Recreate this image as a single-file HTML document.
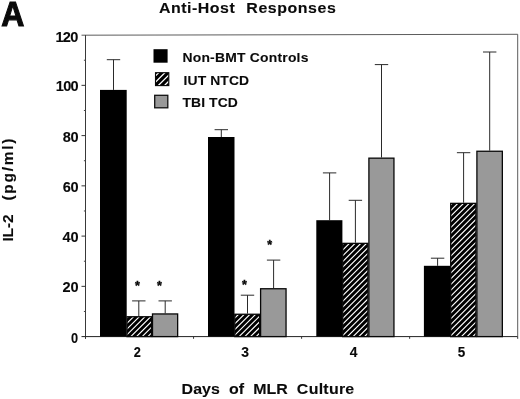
<!DOCTYPE html>
<html lang="en"><head><meta charset="utf-8"><title>Anti-Host Responses</title>
<style>html,body{margin:0;padding:0;background:#fff}body{width:520px;height:399px;overflow:hidden}svg{display:block}text{font-family:"Liberation Sans", Arial, Helvetica, sans-serif;font-weight:bold;fill:#0a0a0a;stroke:#0a0a0a;stroke-width:0.1px}</style></head><body>
<svg width="520" height="399" viewBox="0 0 520 399">
<rect width="520" height="399" fill="#fff"/>
<path d="M81.5 35.2L517.7 34.3V336.6" fill="none" stroke="#4a4a4a" stroke-width="0.9"/>
<path d="M85.5 35.2V338.6" fill="none" stroke="#222" stroke-width="0.9"/>
<path d="M81.5 336.6H517.7" fill="none" stroke="#222" stroke-width="1"/>
<text transform="translate(71.05 342.65) scale(0.9121 1)" font-size="14" letter-spacing="0.000">0</text>
<path d="M83.9 311.48H85.5" stroke="#444" stroke-width="1"/>
<path d="M81.5 286.35H85.5" stroke="#333" stroke-width="1"/>
<text transform="translate(62.55 292.4) scale(1.0400 1)" font-size="14" letter-spacing="-0.087">20</text>
<path d="M83.9 261.23H85.5" stroke="#444" stroke-width="1"/>
<path d="M81.5 236.10H85.5" stroke="#333" stroke-width="1"/>
<text transform="translate(62.55 242.14999999999998) scale(1.0400 1)" font-size="14" letter-spacing="-0.087">40</text>
<path d="M83.9 210.98H85.5" stroke="#444" stroke-width="1"/>
<path d="M81.5 185.85H85.5" stroke="#333" stroke-width="1"/>
<text transform="translate(62.75 191.89999999999998) scale(1.0400 1)" font-size="14" letter-spacing="-0.280">60</text>
<path d="M83.9 160.73H85.5" stroke="#444" stroke-width="1"/>
<path d="M81.5 135.60H85.5" stroke="#333" stroke-width="1"/>
<text transform="translate(62.85 141.64999999999998) scale(1.0400 1)" font-size="14" letter-spacing="-0.376">80</text>
<path d="M83.9 110.47H85.5" stroke="#444" stroke-width="1"/>
<path d="M81.5 85.35H85.5" stroke="#333" stroke-width="1"/>
<text transform="translate(55.85 91.4) scale(1.0400 1)" font-size="14" letter-spacing="-0.714">100</text>
<path d="M83.9 60.23H85.5" stroke="#444" stroke-width="1"/>
<text transform="translate(55.45 41.550000000000004) scale(1.0400 1)" font-size="14" letter-spacing="-0.714">120</text>
<path d="M85.50 336.6V338.8" stroke="#333" stroke-width="1"/>
<path d="M193.55 336.6V338.8" stroke="#333" stroke-width="1"/>
<path d="M301.60 336.6V338.8" stroke="#333" stroke-width="1"/>
<path d="M409.65 336.6V338.8" stroke="#333" stroke-width="1"/>
<path d="M517.70 336.6V338.8" stroke="#333" stroke-width="1"/>
<path d="M113.50 89.9V59.7M106.80 59.7H120.20" stroke="#2a2a2a" stroke-width="1" fill="none"/>
<path d="M138.80 316.1V300.90000000000003M132.10 300.90000000000003H145.50" stroke="#2a2a2a" stroke-width="1" fill="none"/>
<path d="M165.20 313.3V300.90000000000003M158.50 300.90000000000003H171.90" stroke="#2a2a2a" stroke-width="1" fill="none"/>
<rect x="100.00" y="89.9" width="26.70" height="246.70" fill="#000"/>
<clipPath id="c1"><rect x="127.00" y="316.75" width="24.55" height="19.85"/></clipPath><rect x="127.00" y="316.75" width="24.55" height="19.85" fill="#000"/><path d="M126.00 312.90L152.55 286.35M126.00 318.60L152.55 292.05M126.00 324.30L152.55 297.75M126.00 330.00L152.55 303.45M126.00 335.70L152.55 309.15M126.00 341.40L152.55 314.85M126.00 347.10L152.55 320.55M126.00 352.80L152.55 326.25M126.00 358.50L152.55 331.95M126.00 364.20L152.55 337.65" stroke="#fff" stroke-width="1.15" fill="none" clip-path="url(#c1)"/><rect x="127.00" y="316.75" width="24.55" height="19.85" fill="none" stroke="#080808" stroke-width="1.3"/>
<rect x="152.50" y="313.95" width="25.15" height="22.65" fill="#999" stroke="#080808" stroke-width="1.3"/>
<path d="M221.30 137.0V129.7M214.60 129.7H228.00" stroke="#2a2a2a" stroke-width="1" fill="none"/>
<path d="M247.50 313.6V295.20000000000005M240.80 295.20000000000005H254.20" stroke="#2a2a2a" stroke-width="1" fill="none"/>
<path d="M273.60 288.1V260.1M266.90 260.1H280.30" stroke="#2a2a2a" stroke-width="1" fill="none"/>
<rect x="208.00" y="137.0" width="26.50" height="199.60" fill="#000"/>
<clipPath id="c2"><rect x="234.80" y="314.25" width="24.85" height="22.35"/></clipPath><rect x="234.80" y="314.25" width="24.85" height="22.35" fill="#000"/><path d="M233.80 313.40L260.65 286.55M233.80 319.10L260.65 292.25M233.80 324.80L260.65 297.95M233.80 330.50L260.65 303.65M233.80 336.20L260.65 309.35M233.80 341.90L260.65 315.05M233.80 347.60L260.65 320.75M233.80 353.30L260.65 326.45M233.80 359.00L260.65 332.15M233.80 364.70L260.65 337.85" stroke="#fff" stroke-width="1.15" fill="none" clip-path="url(#c2)"/><rect x="234.80" y="314.25" width="24.85" height="22.35" fill="none" stroke="#080808" stroke-width="1.3"/>
<rect x="260.60" y="288.75" width="25.45" height="47.85" fill="#999" stroke="#080808" stroke-width="1.3"/>
<path d="M329.60 220.2V172.9M322.90 172.9H336.30" stroke="#2a2a2a" stroke-width="1" fill="none"/>
<path d="M355.40 242.7V200.29999999999998M348.70 200.29999999999998H362.10" stroke="#2a2a2a" stroke-width="1" fill="none"/>
<path d="M381.50 157.5V64.6M374.80 64.6H388.20" stroke="#2a2a2a" stroke-width="1" fill="none"/>
<rect x="316.30" y="220.2" width="26.10" height="116.40" fill="#000"/>
<clipPath id="c3"><rect x="342.70" y="243.35" width="25.25" height="93.25"/></clipPath><rect x="342.70" y="243.35" width="25.25" height="93.25" fill="#000"/><path d="M341.70 239.70L368.95 212.45M341.70 245.40L368.95 218.15M341.70 251.10L368.95 223.85M341.70 256.80L368.95 229.55M341.70 262.50L368.95 235.25M341.70 268.20L368.95 240.95M341.70 273.90L368.95 246.65M341.70 279.60L368.95 252.35M341.70 285.30L368.95 258.05M341.70 291.00L368.95 263.75M341.70 296.70L368.95 269.45M341.70 302.40L368.95 275.15M341.70 308.10L368.95 280.85M341.70 313.80L368.95 286.55M341.70 319.50L368.95 292.25M341.70 325.20L368.95 297.95M341.70 330.90L368.95 303.65M341.70 336.60L368.95 309.35M341.70 342.30L368.95 315.05M341.70 348.00L368.95 320.75M341.70 353.70L368.95 326.45M341.70 359.40L368.95 332.15M341.70 365.10L368.95 337.85" stroke="#fff" stroke-width="1.15" fill="none" clip-path="url(#c3)"/><rect x="342.70" y="243.35" width="25.25" height="93.25" fill="none" stroke="#080808" stroke-width="1.3"/>
<rect x="368.90" y="158.15" width="25.05" height="178.45" fill="#999" stroke="#080808" stroke-width="1.3"/>
<path d="M437.60 265.8V258.20000000000005M430.90 258.20000000000005H444.30" stroke="#2a2a2a" stroke-width="1" fill="none"/>
<path d="M463.60 202.7V152.7M456.90 152.7H470.30" stroke="#2a2a2a" stroke-width="1" fill="none"/>
<path d="M489.70 150.6V52.0M483.00 52.0H496.40" stroke="#2a2a2a" stroke-width="1" fill="none"/>
<rect x="423.90" y="265.8" width="26.50" height="70.80" fill="#000"/>
<clipPath id="c4"><rect x="450.70" y="203.35" width="25.25" height="133.25"/></clipPath><rect x="450.70" y="203.35" width="25.25" height="133.25" fill="#000"/><path d="M449.70 200.10L476.95 172.85M449.70 205.80L476.95 178.55M449.70 211.50L476.95 184.25M449.70 217.20L476.95 189.95M449.70 222.90L476.95 195.65M449.70 228.60L476.95 201.35M449.70 234.30L476.95 207.05M449.70 240.00L476.95 212.75M449.70 245.70L476.95 218.45M449.70 251.40L476.95 224.15M449.70 257.10L476.95 229.85M449.70 262.80L476.95 235.55M449.70 268.50L476.95 241.25M449.70 274.20L476.95 246.95M449.70 279.90L476.95 252.65M449.70 285.60L476.95 258.35M449.70 291.30L476.95 264.05M449.70 297.00L476.95 269.75M449.70 302.70L476.95 275.45M449.70 308.40L476.95 281.15M449.70 314.10L476.95 286.85M449.70 319.80L476.95 292.55M449.70 325.50L476.95 298.25M449.70 331.20L476.95 303.95M449.70 336.90L476.95 309.65M449.70 342.60L476.95 315.35M449.70 348.30L476.95 321.05M449.70 354.00L476.95 326.75M449.70 359.70L476.95 332.45M449.70 365.40L476.95 338.15" stroke="#fff" stroke-width="1.15" fill="none" clip-path="url(#c4)"/><rect x="450.70" y="203.35" width="25.25" height="133.25" fill="none" stroke="#080808" stroke-width="1.3"/>
<rect x="476.90" y="151.25" width="25.45" height="185.35" fill="#999" stroke="#080808" stroke-width="1.3"/>
<text transform="translate(133.85 356.65) scale(0.8746 1)" font-size="14.6" letter-spacing="0.000">2</text>
<text transform="translate(241.35 356.65) scale(0.9609 1)" font-size="14.6" letter-spacing="0.000">3</text>
<text transform="translate(349.65 356.65) scale(0.9486 1)" font-size="14.6" letter-spacing="0.000">4</text>
<text transform="translate(457.85 356.65) scale(0.9239 1)" font-size="14.6" letter-spacing="0.000">5</text>
<text x="137.5" y="289.70" font-size="12.5" text-anchor="middle" style="stroke-width:0.4px">*</text>
<text x="159.5" y="289.70" font-size="12.5" text-anchor="middle" style="stroke-width:0.4px">*</text>
<text x="244.5" y="289.20" font-size="12.5" text-anchor="middle" style="stroke-width:0.4px">*</text>
<text x="269.7" y="249.10" font-size="12.5" text-anchor="middle" style="stroke-width:0.4px">*</text>
<rect x="153.5" y="49.2" width="14.1" height="13.5" fill="#000"/>
<clipPath id="c5"><rect x="155.50" y="72.70" width="13.30" height="12.90"/></clipPath><rect x="155.50" y="72.70" width="13.30" height="12.90" fill="#000"/><path d="M154.50 70.70L169.80 55.40M154.50 76.90L169.80 61.60M154.50 83.10L169.80 67.80M154.50 89.30L169.80 74.00M154.50 95.50L169.80 80.20M154.50 101.70L169.80 86.40" stroke="#fff" stroke-width="1.3" fill="none" clip-path="url(#c5)"/><rect x="155.50" y="72.70" width="13.30" height="12.90" fill="none" stroke="#080808" stroke-width="1.1"/>
<rect x="154.7" y="95.3" width="13.1" height="12.5" fill="#999" stroke="#111" stroke-width="1.3"/>
<text transform="translate(182.45 62.050000000000004) scale(1.0300 1)" font-size="13.5" letter-spacing="0.213">Non-BMT Controls</text>
<text transform="translate(183.55 85.05) scale(1.0300 1)" font-size="13.5" letter-spacing="0.100">IUT NTCD</text>
<text transform="translate(182.45 107.45) scale(1.0300 1)" font-size="13.5" letter-spacing="0.107">TBI TCD</text>
<text transform="translate(1.35 26.25) scale(0.9247 1)" font-size="34.6" letter-spacing="0.000" style="stroke-width:1.1px">A</text>
<text transform="translate(159.05 13.149999999999999) scale(1.1000 1)" font-size="14.5" letter-spacing="0.448">Anti-Host</text>
<text transform="translate(246.35 13.149999999999999) scale(1.1000 1)" font-size="14.5" letter-spacing="0.501">Responses</text>
<text transform="translate(181.55 394.34999999999997) scale(1.1000 1)" font-size="14.5" letter-spacing="0.080">Days</text>
<text transform="translate(229.05 394.34999999999997) scale(1.1000 1)" font-size="14.5" letter-spacing="0.010">of</text>
<text transform="translate(253.25 394.34999999999997) scale(1.1000 1)" font-size="14.5" letter-spacing="-0.022">MLR</text>
<text transform="translate(296.85 394.34999999999997) scale(1.1000 1)" font-size="14.5" letter-spacing="0.239">Culture</text>
<text transform="translate(12.7 241.60) rotate(-90) scale(1.1000 1)" font-size="14" letter-spacing="-0.085">IL-2</text>
<text transform="translate(12.7 200.60) rotate(-90) scale(1.1000 1)" font-size="14" letter-spacing="1.617">(pg/ml)</text>
</svg></body></html>
